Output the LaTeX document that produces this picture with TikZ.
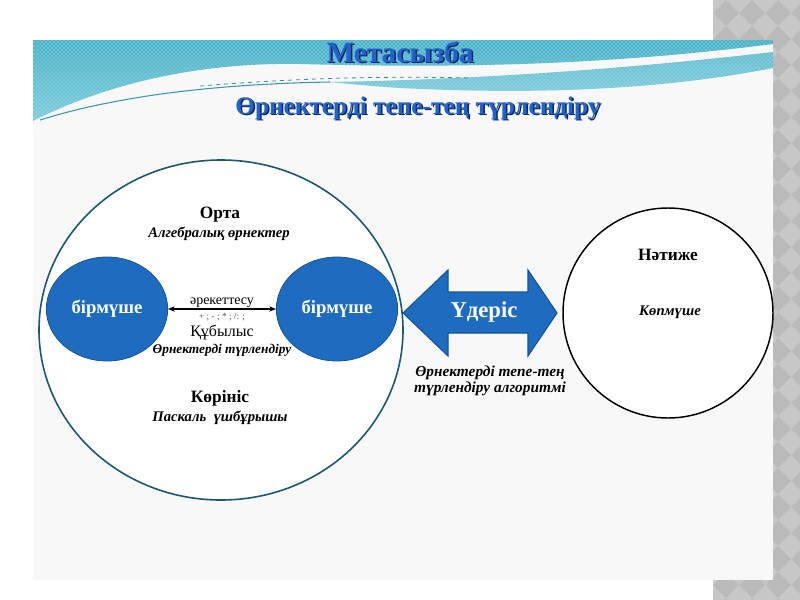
\documentclass[tikz,border=0pt]{standalone}
\usepackage{fontspec}
\setmainfont{Liberation Serif}
\usetikzlibrary{arrows.meta,patterns,shapes.geometric}
\definecolor{bblue}{RGB}{30,108,192}
\definecolor{bblueline}{RGB}{24,82,150}
\definecolor{tealline}{RGB}{28,88,108}
\definecolor{stripgray}{RGB}{186,186,186}
\definecolor{diamgray}{RGB}{199,199,199}
\definecolor{teal1}{RGB}{72,178,200}
\definecolor{teal2}{RGB}{125,204,220}
\definecolor{titleblue}{RGB}{34,98,205}
\definecolor{shadowblue}{RGB}{12,38,92}
\definecolor{panel}{RGB}{248,248,248}
\tikzset{
  bluebox/.style={ellipse, fill=bblue, draw=bblueline, line width=0.6pt, inner sep=0pt,
    minimum width=91pt, minimum height=78pt, text=white, font=\bfseries\fontsize{14}{16}\selectfont},
  headtxt/.style={font=\bfseries\fontsize{13}{15}\selectfont},
  subtxt/.style={font=\bfseries\itshape\fontsize{11}{13}\selectfont},
  titletxt/.style={font=\bfseries\fontsize{#1}{#1}\selectfont, text=titleblue},
  shadowtxt/.style={font=\bfseries\fontsize{#1}{#1}\selectfont, text=shadowblue},
  tealtop/.style={top color=teal1, bottom color=teal2}
}
\begin{document}
\begin{tikzpicture}[x=0.75pt,y=-0.75pt]
\useasboundingbox (0,0) rectangle (800,600);
\fill[white] (0,0) rectangle (800,600);
% grey strip with diamonds
\begin{scope}
\clip (713,0) rectangle (800,600);
\fill[stripgray] (713,0) rectangle (800,600);
\foreach \i in {0,...,4}{
  \foreach \j in {0,...,24}{
    \fill[diamgray] ({713+26*\i},{26*\j-13}) -- ({726+26*\i},{26*\j}) -- ({713+26*\i},{26*\j+13}) -- ({700+26*\i},{26*\j}) -- cycle;
  }
}
\end{scope}
% panel
\fill[panel] (33,40) rectangle (773,580);
% banner
\begin{scope}
\clip (33,40) rectangle (773,122);
\def\toppath{(33,40) -- (773,40) -- (773,44) .. controls (600,66) and (450,68) .. (300,64)
  .. controls (180,62) and (90,92) .. (33,121) -- cycle}
\def\lowpath{(330,82) .. controls (450,80) and (600,72) .. (773,52) -- (773,68)
  .. controls (650,92) and (520,94) .. (400,88) .. controls (370,86) and (350,84) .. (330,82) -- cycle}
\shade[tealtop] \toppath;
\fill[pattern=crosshatch dots, pattern color=white!75!teal1] \toppath;
\shade[top color=teal1!85, bottom color=teal2] \lowpath;
\fill[pattern=crosshatch dots, pattern color=white!75!teal1] \lowpath;
\draw[teal1!85!black, line width=0.8pt] (40,120) .. controls (120,95) and (220,84) .. (330,82);
\draw[teal1!80!black, line width=0.6pt, dashed] (200,86) .. controls (300,78) and (380,76) .. (470,78);
\end{scope}
% titles
\node[shadowtxt=22] at (401.5,53.5) {Метасызба};
\node[titletxt=22] (title) at (400,52) {Метасызба};
\node[shadowtxt=19] at (419.5,109.5) {Өрнектерді тепе-тең түрлендіру};
\node[titletxt=19] (subtitle) at (418,108) {Өрнектерді тепе-тең түрлендіру};
% big circle
\node[ellipse, draw=tealline, line width=1.2pt, fill=white, minimum width=273pt, minimum height=255pt, inner sep=0pt] (big) at (221,330) {};
% right circle
\node[circle, draw=black, line width=1.1pt, fill=white, minimum size=157.5pt, inner sep=0pt] (res) at (668,313) {};
% blue ellipses
\node[bluebox] (b1) at (107,309) {бірмүше};
\node[bluebox] (b2) at (337,309) {бірмүше};
\draw[{Stealth[length=5pt,width=4pt]}-{Stealth[length=5pt,width=4pt]}, line width=0.9pt] (b1) -- (b2);
\node[anchor=south, inner sep=1pt, font=\fontsize{10.5}{12}\selectfont] (act) at (222,309) {әрекеттесу};
\node[font=\fontsize{7}{8}\selectfont, text=gray!60!black] (ops) at (222,317) {+ ; - ; * ; /: ;};
\node[font=\fontsize{12}{14}\selectfont] (phen) at (222,332) {Құбылыс};
\node[font=\bfseries\itshape\fontsize{10}{12}\selectfont] (phen2) at (222,350) {Өрнектерді түрлендіру};
\node[headtxt] (orta) at (220,215) {Орта};
\node[subtxt] (orta2) at (219,234) {Алгебралық өрнектер};
\node[headtxt] (kor) at (220,398) {Көрініс};
\node[subtxt] (kor2) at (220,418) {Паскаль\ \ үшбұрышы};
% block arrow
\filldraw[fill=bblue, draw=bblueline, line width=0.8pt]
  (403,313) -- (448,270) -- (448,292) -- (528,292) -- (528,270) -- (557,313)
  -- (528,356) -- (528,333) -- (448,333) -- (448,356) -- cycle;
\node[text=white, font=\bfseries\fontsize{17}{19}\selectfont] (proc) at (484,312) {Үдеріс};
\node[align=center, font=\bfseries\itshape\fontsize{11.5}{12}\selectfont] (alg) at (490,381) {Өрнектерді тепе-тең\\түрлендіру алгоритмі};
% result
\node[headtxt] (net) at (668,255) {Нәтиже};
\node[subtxt] (kop) at (670,312) {Көпмүше};
\end{tikzpicture}
\end{document}
